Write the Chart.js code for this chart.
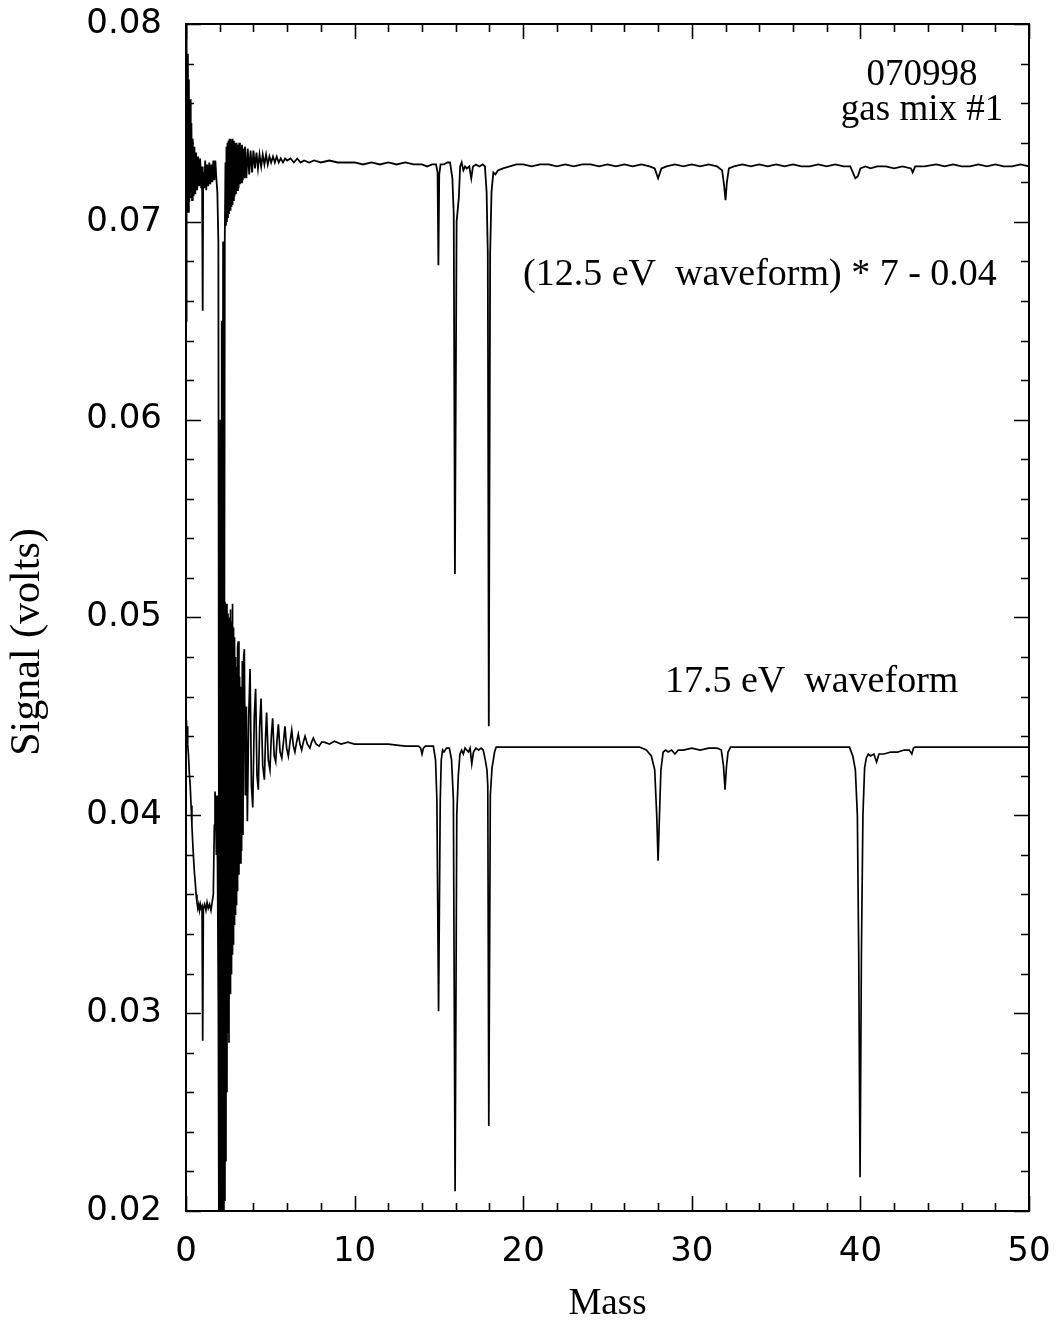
<!DOCTYPE html>
<html>
<head>
<meta charset="utf-8">
<script src="https://cdn.jsdelivr.net/npm/chart.js@4.4.1/dist/chart.umd.min.js"></script>
<style>
  html, body { margin: 0; padding: 0; background: #ffffff; }
  #wrap { width: 1058px; height: 1332px; }
</style>
</head>
<body>
<div id="wrap"><canvas id="c" width="1058" height="1332"></canvas></div>
<script>
// ---- axis definitions ----
const xRange = [0, 50];
const yRange = [0.02, 0.08];
const xTitle = "Mass";
const yTitle = "Signal (volts)";

// ---- annotation texts ----
const runLabel = ["070998", "gas mix #1"];
const upperLabel = "(12.5 eV  waveform) * 7 - 0.04";
const lowerLabel = "17.5 eV  waveform";

// ---- series: (12.5 eV waveform) * 7 - 0.04 ----
const upperMass = [
  0.00,0.02,0.05,0.08,0.11,0.14,0.17,0.20,0.24,0.28,0.32,0.36,0.40,0.45,0.50,0.55,0.60,0.66,0.72,0.78,
  0.84,0.90,0.95,0.99,1.02,1.08,1.14,1.20,1.26,1.32,1.38,1.44,1.50,1.56,1.62,1.68,1.74,1.80,1.86,1.92,
  1.96,2.00,2.04,2.08,2.12,2.16,2.20,2.25,
  2.30,2.34,2.37,2.40,2.43,2.46,2.49,2.52,2.55,2.58,2.61,2.64,2.67,2.70,2.73,2.76,2.80,2.84,2.88,2.92,
  2.96,3.00,3.04,3.08,3.12,3.16,3.20,3.24,3.28,3.32,3.37,3.41,3.46,3.50,
  3.58,3.66,3.75,3.83,3.92,4.00,4.09,4.18,4.27,4.36,4.46,4.55,4.65,4.75,
  4.85,4.95,5.05,5.16,5.27,5.38,5.50,5.62,5.75,5.88,6.00,6.20,6.40,6.60,6.80,7.00,7.30,7.60,8.00,8.50,
  9.00,9.50,10.0,10.5,11.0,11.5,12.0,12.5,13.0,13.5,14.0,14.3,14.6,14.83,14.92,14.97,15.02,15.10,15.3,15.5,
  15.66,15.80,15.88,15.95,16.05,16.18,16.26,16.35,16.45,16.55,16.65,16.80,16.92,17.02,17.2,17.4,17.6,17.73,17.83,17.90,
  17.96,18.04,18.12,18.23,18.35,18.5,18.8,19.2,19.6,20.0,20.5,21.0,21.5,22.0,22.5,23.0,23.5,24.0,24.5,25.0,
  25.5,26.0,26.5,27.0,27.5,27.8,28.0,28.2,28.5,29.0,29.5,30.0,30.5,31.0,31.5,31.8,31.92,32.0,32.08,32.2,
  32.5,33.0,33.5,34.0,34.5,35.0,35.5,36.0,36.5,37.0,37.5,38.0,38.5,39.0,39.4,39.55,39.7,39.85,40.0,40.3,
  40.6,41.0,41.5,42.0,42.5,43.0,43.1,43.25,43.8,44.5,45.0,45.5,46.0,46.5,47.0,47.5,48.0,48.5,49.0,49.5,
  50.0
];
const upperSignal = [
  0.0650,0.0800,0.0790,0.0712,0.0785,0.0705,0.0772,0.0710,0.0762,0.0712,0.0750,0.0711,0.0742,0.0713,0.0738,0.0714,0.0735,0.0716,0.0733,0.0718,
  0.0732,0.0717,0.0728,0.0655,0.0725,0.0717,0.0731,0.0716,0.0729,0.0718,0.0730,0.0719,0.0729,0.0720,0.0731,0.0721,0.0731,0.0722,0.0715,0.0690,
  0.0300,0.0190,0.0600,0.0190,0.0650,0.0200,0.0690,0.0300,
  0.0690,0.0730,0.0698,0.0738,0.0700,0.0740,0.0702,0.0741,0.0704,0.0742,0.0706,0.0742,0.0708,0.0741,0.0709,0.0742,0.0711,0.0741,0.0713,0.0740,
  0.0714,0.0740,0.0716,0.0739,0.0717,0.0740,0.0719,0.0738,0.0720,0.0739,0.0721,0.0737,0.0722,0.0738,
  0.0722,0.0737,0.0724,0.0736,0.0725,0.0736,0.0727,0.0735,0.0727,0.0734,0.0728,0.0734,0.0729,0.0734,
  0.0729,0.0733,0.0730,0.0733,0.0730,0.0733,0.0730,0.0732,0.0730,0.0732,0.0731,0.0732,0.0730,0.0732,0.0730,0.0731,0.0730,0.0731,0.0730,0.0731,
  0.0730,0.0730,0.0730,0.0729,0.0730,0.0729,0.0730,0.0729,0.0730,0.0729,0.0729,0.0728,0.0729,0.0729,0.0725,0.0678,0.0724,0.0729,0.0729,0.0730,
  0.0730,0.0722,0.0704,0.0522,0.0700,0.0712,0.0728,0.0730,0.0726,0.0728,0.0727,0.0728,0.0722,0.0728,0.0729,0.0728,0.0729,0.0728,0.0715,0.0684,
  0.0445,0.0684,0.0715,0.0725,0.0724,0.0726,0.0727,0.0728,0.0729,0.0729,0.0728,0.0729,0.0729,0.0728,0.0729,0.0728,0.0729,0.0729,0.0728,0.0729,
  0.0728,0.0729,0.0728,0.0729,0.0728,0.0727,0.0722,0.0727,0.0728,0.0729,0.0728,0.0729,0.0728,0.0729,0.0728,0.0726,0.0718,0.0711,0.0720,0.0727,
  0.0728,0.0729,0.0728,0.0729,0.0728,0.0729,0.0728,0.0729,0.0728,0.0728,0.0729,0.0728,0.0729,0.0728,0.0728,0.0725,0.0722,0.0723,0.0727,0.0728,
  0.0727,0.0728,0.0728,0.0727,0.0728,0.0727,0.0725,0.0728,0.0728,0.0729,0.0728,0.0729,0.0728,0.0728,0.0729,0.0728,0.0729,0.0728,0.0728,0.0729,
  0.0728
];

// ---- series: 17.5 eV waveform ----
const lowerMass = [
  0.00,0.03,0.06,0.10,0.15,0.20,0.25,0.30,0.35,0.40,0.45,0.50,0.55,0.60,0.65,0.70,0.75,0.80,0.85,0.90,
  0.95,0.99,1.03,1.10,1.18,1.25,1.32,1.40,1.48,1.55,1.62,1.68,1.72,1.76,1.80,1.84,1.88,
  1.92,1.95,1.98,2.01,2.04,2.07,2.10,2.13,2.16,2.19,2.22,2.25,2.28,2.31,2.34,2.37,2.40,2.43,2.46,2.49,
  2.52,2.55,2.58,2.61,2.64,2.67,2.70,2.73,2.76,2.79,2.82,2.85,2.88,2.91,2.94,2.97,3.00,3.03,3.06,3.10,
  3.14,3.18,3.22,3.26,3.30,3.34,3.38,3.42,3.46,
  3.52,3.58,3.64,3.72,3.80,3.88,
  3.96,4.05,4.13,4.21,4.29,4.37,4.45,4.55,4.65,4.72,4.78,4.88,4.98,5.06,5.14,5.23,5.32,5.40,5.48,5.58,
  5.68,5.78,5.87,5.97,6.07,6.17,6.27,6.37,6.46,6.56,6.66,6.76,6.86,6.96,7.06,7.20,7.35,7.45,7.55,7.72,
  7.90,8.05,8.20,8.50,8.80,9.20,9.60,10.0,10.5,11.0,12.0,13.0,13.8,13.92,14.0,14.08,14.2,14.67,14.8,14.88,
  14.98,15.08,15.14,15.22,15.3,15.45,15.62,15.75,15.86,15.96,16.06,16.15,16.25,16.35,16.45,16.55,16.65,16.75,16.85,16.95,
  17.05,17.2,17.35,17.5,17.63,17.75,17.85,17.9,17.96,18.05,18.15,18.23,18.3,18.4,26.9,27.3,27.6,27.8,27.92,28.0,
  28.1,28.17,28.3,28.45,28.6,28.8,29.0,29.2,29.5,30.0,30.5,31.0,31.5,31.75,31.88,31.97,32.06,32.15,32.3,39.35,
  39.55,39.7,39.82,39.9,39.98,40.06,40.15,40.25,40.35,40.47,40.6,40.8,40.96,41.1,41.4,41.8,42.2,42.6,42.9,43.05,
  43.15,43.25,50.0
];
const lowerSignal = [
  0.0448,0.0438,0.0445,0.0436,0.0430,0.0421,0.0415,0.0405,0.0395,0.0386,0.0378,0.0371,0.0366,0.0360,0.0356,0.0353,0.0355,0.0352,0.0355,0.0353,
  0.0354,0.0286,0.0353,0.0355,0.0352,0.0356,0.0353,0.0355,0.0352,0.0356,0.0360,0.0395,0.0412,0.0405,0.0380,0.0410,0.0360,
  0.0300,0.0190,0.0470,0.0190,0.0495,0.0190,0.0505,0.0190,0.0510,0.0192,0.0506,0.0198,0.0508,0.0205,0.0505,0.0225,0.0507,0.0260,0.0502,0.0290,
  0.0495,0.0285,0.0500,0.0310,0.0504,0.0320,0.0498,0.0330,0.0507,0.0335,0.0495,0.0345,0.0490,0.0350,0.0480,0.0355,0.0475,0.0362,0.0485,0.0488,
  0.0370,0.0470,0.0376,0.0465,0.0382,0.0478,0.0390,0.0480,0.0484,
  0.0410,0.0455,0.0397,0.0450,0.0474,0.0415,
  0.0404,0.0450,0.0464,0.0420,0.0413,0.0445,0.0459,0.0425,0.0418,0.0440,0.0452,0.0428,0.0423,0.0440,0.0449,0.0430,0.0427,0.0438,0.0446,0.0432,
  0.0429,0.0437,0.0445,0.0434,0.0430,0.0437,0.0443,0.0435,0.0432,0.0437,0.0441,0.0436,0.0433,0.0437,0.0440,0.0436,0.0434,0.0437,0.0439,0.0436,
  0.0435,0.0437,0.0437,0.0436,0.04375,0.0436,0.0437,0.0436,0.0436,0.0436,0.0436,0.0435,0.0435,0.0434,0.0431,0.0434,0.0435,0.0435,0.0428,0.0408,
  0.0301,0.0408,0.0428,0.0433,0.0432,0.0434,0.0434,0.0428,0.0408,0.0210,0.0400,0.0420,0.0431,0.0433,0.0431,0.0434,0.0433,0.0432,0.0434,0.0426,
  0.0432,0.0434,0.0433,0.0434,0.0433,0.0428,0.0423,0.0415,0.0243,0.0410,0.0424,0.0428,0.0432,0.04345,0.04345,0.0433,0.0430,0.0423,0.0400,0.0377,
  0.0405,0.0423,0.0432,0.0433,0.0432,0.0433,0.0431,0.0433,0.0433,0.0434,0.0433,0.0434,0.0434,0.0433,0.0425,0.0413,0.0425,0.0432,0.04345,0.04345,
  0.0430,0.0423,0.0400,0.0330,0.0217,0.0330,0.0400,0.0424,0.0429,0.0431,0.0430,0.0431,0.0427,0.0431,0.0431,0.0432,0.0432,0.0433,0.0433,0.0431,
  0.0434,0.04345,0.04345
];

const toPoints = (xs, ys) => xs.map((x, i) => ({ x: x, y: ys[i] }));

const isMajorX = v => Math.abs(v / 10 - Math.round(v / 10)) < 1e-6;
const isMajorY = v => Math.round(v * 1000) % 10 === 0;

const frameAndTicks = {
  id: 'frameAndTicks',
  afterDraw(chart) {
    const ctx = chart.ctx;
    const a = chart.chartArea;
    const xs = chart.scales.x, ys = chart.scales.y;
    ctx.save();
    ctx.strokeStyle = '#000';
    ctx.lineWidth = 1.6;
    ctx.beginPath();
    xs.ticks.forEach(t => {
      const px = Math.round(xs.getPixelForValue(t.value)) + 0.5;
      const len = isMajorX(t.value) ? 15 : 8;
      ctx.moveTo(px, a.bottom); ctx.lineTo(px, a.bottom - len);
      ctx.moveTo(px, a.top); ctx.lineTo(px, a.top + len);
    });
    ys.ticks.forEach(t => {
      const py = Math.round(ys.getPixelForValue(t.value)) + 0.5;
      const len = isMajorY(t.value) ? 15 : 8;
      ctx.moveTo(a.left, py); ctx.lineTo(a.left + len, py);
      ctx.moveTo(a.right, py); ctx.lineTo(a.right - len, py);
    });
    ctx.stroke();
    ctx.lineWidth = 2;
    ctx.strokeRect(a.left, a.top, a.right - a.left, a.bottom - a.top);

    // annotations
    ctx.fillStyle = '#000';
    ctx.textBaseline = 'alphabetic';
    ctx.font = '37px "Liberation Serif", "Times New Roman", serif';
    ctx.textAlign = 'center';
    ctx.fillText(runLabel[0], 922, 85);
    ctx.fillText(runLabel[1], 922, 120);
    ctx.font = '38px "Liberation Serif", "Times New Roman", serif';
    ctx.textAlign = 'left';
    ctx.fillText(upperLabel, 523, 285);
    ctx.fillText(lowerLabel, 665, 692);

    // y axis title
    ctx.save();
    ctx.translate(28, 642);
    ctx.rotate(-Math.PI / 2);
    ctx.textAlign = 'center';
    ctx.textBaseline = 'middle';
    ctx.font = '42px "Liberation Serif", "Times New Roman", serif';
    ctx.fillText(yTitle, 0, 0);
    ctx.restore();
    ctx.restore();
  }
};

new Chart(document.getElementById('c'), {
  type: 'scatter',
  data: {
    datasets: [
      { label: upperLabel, data: toPoints(upperMass, upperSignal), showLine: true,
        borderColor: '#000', borderWidth: 1.8, pointRadius: 0, tension: 0, fill: false },
      { label: lowerLabel, data: toPoints(lowerMass, lowerSignal), showLine: true,
        borderColor: '#000', borderWidth: 1.7, pointRadius: 0, tension: 0, fill: false }
    ]
  },
  options: {
    responsive: false,
    devicePixelRatio: 1,
    animation: false,
    layout: { padding: { left: 0, top: 24, right: 29, bottom: 0 } },
    plugins: { legend: { display: false }, tooltip: { enabled: false } },
    scales: {
      x: {
        type: 'linear', min: xRange[0], max: xRange[1],
        grid: { display: false, drawTicks: false },
        border: { display: false },
        ticks: {
          stepSize: 2, autoSkip: false, maxRotation: 0, padding: 21, color: '#000',
          font: { family: '"DejaVu Sans", sans-serif', size: 34 },
          callback: v => isMajorX(v) ? String(Math.round(v)) : ''
        },
        title: { display: true, text: xTitle, color: '#000',
          font: { family: '"Liberation Serif", "Times New Roman", serif', size: 37 },
          padding: { top: 0, bottom: 6 } },
        afterFit: s => { s.height = 121; s.paddingLeft = 0; s.paddingRight = 0; }
      },
      y: {
        type: 'linear', min: yRange[0], max: yRange[1],
        grid: { display: false, drawTicks: false },
        border: { display: false },
        ticks: {
          stepSize: 0.002, autoSkip: false, padding: 24, color: '#000',
          font: { family: '"DejaVu Sans", sans-serif', size: 34 },
          callback: v => isMajorY(v) ? (Math.round(v * 100) / 100).toFixed(2) : ''
        },
        afterFit: s => { s.width = 186; s.paddingTop = 0; s.paddingBottom = 0; }
      }
    }
  },
  plugins: [frameAndTicks]
});
</script>
</body>
</html>
